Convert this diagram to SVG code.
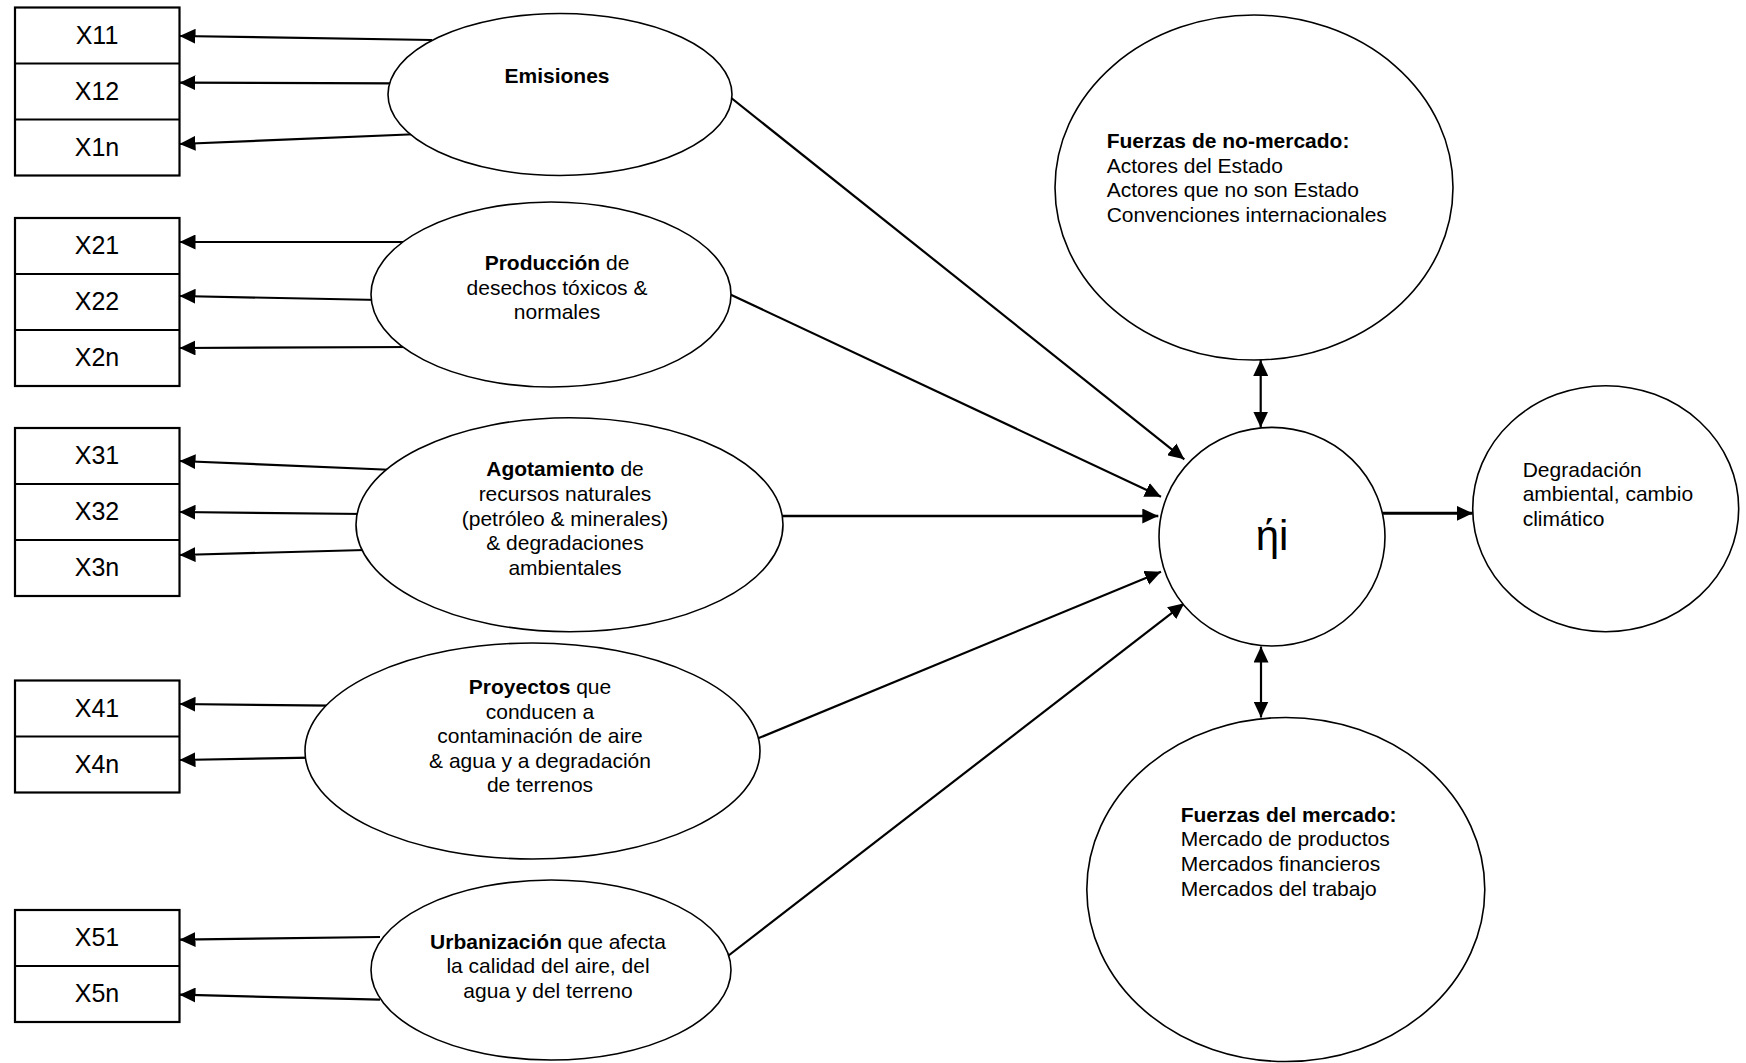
<svg xmlns="http://www.w3.org/2000/svg" width="1746" height="1063" viewBox="0 0 1746 1063">
<defs>
<style>
.box{fill:#fff;stroke:#000;stroke-width:2.2}
.div{stroke:#000;stroke-width:2}
.ell{fill:#fff;stroke:#000;stroke-width:1.6}
.xl{font-family:"Liberation Sans",Arial,sans-serif;font-size:25px;text-anchor:middle;fill:#000}
.t{font-family:"Liberation Sans",Arial,sans-serif;font-size:21px;fill:#000}
.c{text-anchor:middle}
.b{font-weight:bold}
.con{stroke:#000;stroke-width:2.2;fill:none;marker-end:url(#ah)}
.dbl{stroke:#000;stroke-width:2.2;fill:none;marker-end:url(#ah);marker-start:url(#ah)}
</style>
<marker id="ah" markerUnits="userSpaceOnUse" markerWidth="17" markerHeight="15" refX="16" refY="7.5" orient="auto-start-reverse">
<path d="M0,0 L16,7.5 L0,15 z" fill="#000"/>
</marker>
</defs>
<rect width="1746" height="1063" fill="#fff"/>

<g id="connectors">
<line class="con" x1="432" y1="40" x2="179.5" y2="36"/>
<line class="con" x1="395" y1="83.3" x2="179.5" y2="82.7"/>
<line class="con" x1="420" y1="134" x2="179.5" y2="144"/>
<line class="con" x1="415" y1="242" x2="179.5" y2="242"/>
<line class="con" x1="380" y1="300" x2="179.5" y2="296"/>
<line class="con" x1="415" y1="347" x2="179.5" y2="348"/>
<line class="con" x1="395" y1="470" x2="179.5" y2="461"/>
<line class="con" x1="365" y1="514" x2="179.5" y2="512"/>
<line class="con" x1="365" y1="550" x2="179.5" y2="555"/>
<line class="con" x1="330" y1="705.7" x2="179.5" y2="704"/>
<line class="con" x1="312" y1="757.7" x2="179.5" y2="760"/>
<line class="con" x1="380" y1="937" x2="179.5" y2="939.7"/>
<line class="con" x1="380" y1="999.7" x2="179.5" y2="994.7"/>
<line class="con" x1="725" y1="93" x2="1184.3" y2="459.3"/>
<line class="con" x1="725" y1="292" x2="1161" y2="496.7"/>
<line class="con" x1="776" y1="516" x2="1158.3" y2="516" style="stroke-width:2.6"/>
<line class="con" x1="754" y1="740" x2="1161" y2="571.7"/>
<line class="con" x1="724" y1="959" x2="1184.3" y2="603.3"/>
<line class="con" x1="1380" y1="513.3" x2="1472.7" y2="513.3" style="stroke-width:3"/>
<line class="dbl" x1="1260.7" y1="360" x2="1260.7" y2="427.5"/>
<line class="dbl" x1="1261" y1="646.5" x2="1261" y2="717.5"/>
</g>

<g id="box-x1">
<rect class="box" x="15" y="7.5" width="164.5" height="168"/>
<line class="div" x1="15" y1="63.5" x2="179.5" y2="63.5"/>
<line class="div" x1="15" y1="119.5" x2="179.5" y2="119.5"/>
<text class="xl" x="97" y="43.5">X11</text>
<text class="xl" x="97" y="99.5">X12</text>
<text class="xl" x="97" y="155.5">X1n</text>
</g>
<g id="box-x2">
<rect class="box" x="15" y="218" width="164.5" height="168"/>
<line class="div" x1="15" y1="274" x2="179.5" y2="274"/>
<line class="div" x1="15" y1="330" x2="179.5" y2="330"/>
<text class="xl" x="97" y="254">X21</text>
<text class="xl" x="97" y="310">X22</text>
<text class="xl" x="97" y="366">X2n</text>
</g>
<g id="box-x3">
<rect class="box" x="15" y="428" width="164.5" height="168"/>
<line class="div" x1="15" y1="484" x2="179.5" y2="484"/>
<line class="div" x1="15" y1="540" x2="179.5" y2="540"/>
<text class="xl" x="97" y="464">X31</text>
<text class="xl" x="97" y="520">X32</text>
<text class="xl" x="97" y="576">X3n</text>
</g>
<g id="box-x4">
<rect class="box" x="15" y="680.5" width="164.5" height="112"/>
<line class="div" x1="15" y1="736.5" x2="179.5" y2="736.5"/>
<text class="xl" x="97" y="716.5">X41</text>
<text class="xl" x="97" y="772.5">X4n</text>
</g>
<g id="box-x5">
<rect class="box" x="15" y="910" width="164.5" height="112"/>
<line class="div" x1="15" y1="966" x2="179.5" y2="966"/>
<text class="xl" x="97" y="946">X51</text>
<text class="xl" x="97" y="1002">X5n</text>
</g>

<g id="emisiones">
<ellipse class="ell" cx="560" cy="94.5" rx="172" ry="81"/>
<text class="t c b" x="557" y="83">Emisiones</text>
</g>
<g id="produccion">
<ellipse class="ell" cx="551" cy="294.5" rx="180" ry="92.5"/>
<text class="t c" x="557" y="270"><tspan class="b">Producción</tspan> de</text>
<text class="t c" x="557" y="295">desechos tóxicos &amp;</text>
<text class="t c" x="557" y="319">normales</text>
</g>
<g id="agotamiento">
<ellipse class="ell" cx="569.5" cy="524.7" rx="213.5" ry="107"/>
<text class="t c" x="565" y="476"><tspan class="b">Agotamiento</tspan> de</text>
<text class="t c" x="565" y="500.8">recursos naturales</text>
<text class="t c" x="565" y="525.6">(petróleo &amp; minerales)</text>
<text class="t c" x="565" y="550.4">&amp; degradaciones</text>
<text class="t c" x="565" y="575.2">ambientales</text>
</g>
<g id="proyectos">
<ellipse class="ell" cx="532.5" cy="751" rx="227.5" ry="108"/>
<text class="t c" x="540" y="694"><tspan class="b">Proyectos</tspan> que</text>
<text class="t c" x="540" y="718.5">conducen a</text>
<text class="t c" x="540" y="743">contaminación de aire</text>
<text class="t c" x="540" y="767.5">&amp; agua y a degradación</text>
<text class="t c" x="540" y="792">de terrenos</text>
</g>
<g id="urbanizacion">
<ellipse class="ell" cx="551" cy="970" rx="180" ry="90"/>
<text class="t c" x="548" y="948.5"><tspan class="b">Urbanización</tspan> que afecta</text>
<text class="t c" x="548" y="973.3">la calidad del aire, del</text>
<text class="t c" x="548" y="998">agua y del terreno</text>
</g>
<g id="no-mercado">
<ellipse class="ell" cx="1254" cy="187.5" rx="199" ry="172.5"/>
<text class="t b" x="1106.7" y="148">Fuerzas de no-mercado:</text>
<text class="t" x="1106.7" y="172.6">Actores del Estado</text>
<text class="t" x="1106.7" y="197.2">Actores que no son Estado</text>
<text class="t" x="1106.7" y="221.8">Convenciones internacionales</text>
</g>
<g id="eta">
<ellipse class="ell" cx="1272" cy="536.7" rx="113" ry="109.3"/>
<text class="t c" x="1272" y="550" style="font-size:42px">ήi</text>
</g>
<g id="degradacion">
<ellipse class="ell" cx="1605.7" cy="508.7" rx="133" ry="123"/>
<text class="t" x="1522.7" y="476.7">Degradación</text>
<text class="t" x="1522.7" y="501.4">ambiental, cambio</text>
<text class="t" x="1522.7" y="526">climático</text>
</g>
<g id="mercado">
<ellipse class="ell" cx="1285.8" cy="889.5" rx="199" ry="172"/>
<text class="t b" x="1180.7" y="821.7">Fuerzas del mercado:</text>
<text class="t" x="1180.7" y="846.4">Mercado de productos</text>
<text class="t" x="1180.7" y="871">Mercados financieros</text>
<text class="t" x="1180.7" y="895.7">Mercados del trabajo</text>
</g>
</svg>
